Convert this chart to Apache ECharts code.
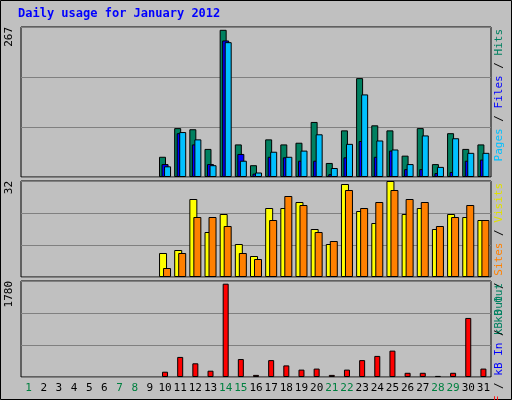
<!DOCTYPE html>
<html><head><meta charset="utf-8">
<script src="https://cdn.jsdelivr.net/npm/echarts@6/dist/echarts.min.js"></script>
<style>html,body{margin:0;padding:0;background:#c0c0c0}#c{width:512px;height:400px}</style>
</head><body><div id="c"></div>
<script>
const days = Array.from({length: 31}, (_, i) => String(i + 1));
const weekend = ['1', '7', '8', '14', '15', '21', '22', '28', '29'];
const pad = a => new Array(9).fill(null).concat(a);
const hits  = pad([36, 87, 85, 50, 262, 58, 21, 67, 58, 61, 98, 25, 83, 176, 92, 83, 38, 87, 23, 78, 50, 58]);
const files = pad([23, 78, 58, 23, 243, 41, 6, 36, 35, 29, 29, 5, 35, 64, 36, 47, 14, 14, 7, 9, 29, 31]);
const pages = pad([19, 80, 67, 21, 240, 29, 8, 45, 36, 47, 76, 16, 59, 147, 65, 49, 23, 74, 18, 69, 43, 43]);
const visits = pad([8, 9, 26, 15, 21, 11, 7, 23, 23, 25, 16, 11, 31, 22, 18, 32, 21, 23, 16, 21, 20, 19]);
const sites  = pad([3, 8, 20, 20, 17, 8, 6, 19, 27, 24, 15, 12, 29, 23, 25, 29, 26, 25, 17, 20, 24, 19]);
const kbytes = pad([98, 372, 254, 117, 1730, 333, 39, 313, 215, 137, 156, 39, 137, 313, 391, 489, 78, 78, 20, 78, 1095, 156]);
const maxes = [267, 32, 1780];

const grids = [
  {left: 21, width: 470, top: 27, height: 150},
  {left: 21, width: 470, top: 181, height: 96},
  {left: 21, width: 470, top: 281, height: 96}
];
const font = 'DejaVu Sans Mono';
const bar = (name, data, idx, color, w, gap) => ({
  name, type: 'bar', data, xAxisIndex: idx, yAxisIndex: idx, barWidth: w, barGap: gap,
  itemStyle: {color, borderColor: '#000', borderWidth: 1}, animation: false
});
const sideText = (y, text, rich) => ({
  type: 'text', x: 499, y, rotation: Math.PI / 2,
  style: {text, align: 'right', verticalAlign: 'middle', rich}
});
const r = c => ({fill: c, font: '11px ' + font});

const chart = echarts.init(document.getElementById('c'));
chart.setOption({
  backgroundColor: '#c0c0c0',
  grid: grids.map(g => ({...g, show: true, backgroundColor: '#c0c0c0', borderColor: '#000', borderWidth: 1})),
  xAxis: grids.map((g, i) => ({
    type: 'category', gridIndex: i, data: days,
    axisLine: {show: false}, axisTick: {show: false},
    axisLabel: i === 2 ? {
      show: true, interval: 0, fontFamily: font, fontSize: 11, margin: 6,
      formatter: v => weekend.includes(v) ? '{g|' + v + '}' : v,
      color: '#000', rich: {g: {color: '#008040', fontFamily: font, fontSize: 11}}
    } : {show: false}
  })),
  yAxis: maxes.map((m, i) => ({
    type: 'value', gridIndex: i, min: 0, max: m, interval: m / 3,
    axisLabel: {
      show: true, rotate: 90, margin: 6, fontFamily: font, fontSize: 11, color: '#000',
      formatter: v => (Math.abs(v - m) < 0.01 ? String(m) : ''),
      align: 'right', verticalAlign: 'bottom'
    },
    axisLine: {show: false}, axisTick: {show: false},
    splitLine: {lineStyle: {color: '#808080', width: 1}}
  })),
  series: [
    bar('Hits', hits, 0, '#008060', 7, '-64%'),
    bar('Files', files, 0, '#0000ff', 7, '-64%'),
    bar('Pages', pages, 0, '#00c0ff', 7, '-64%'),
    bar('Visits', visits, 1, '#ffff00', 8, '-50%'),
    bar('Sites', sites, 1, '#ff8000', 8, '-50%'),
    bar('kB F', kbytes, 2, '#ff0000', 6, '0%')
  ],
  graphic: [
    {type: 'rect', shape: {x: 0.5, y: 0.5, width: 511, height: 399}, style: {fill: 'none', stroke: '#000'}},
    {type: 'text', left: 18, top: 8, style: {text: 'Daily usage for January 2012', fill: '#0000ff', font: 'bold 12px ' + font}},
    sideText(29, '{p|Pages}{k| / }{f|Files}{k| / }{h|Hits}',
      {h: r('#008060'), f: r('#0000ff'), p: r('#00c0ff'), k: r('#000')}),
    sideText(183, '{o|kB Out}{k| / }{s|Sites}{k| / }{v|Visits}',
      {v: r('#e0e000'), s: r('#ff8000'), o: r('#008060'), k: r('#000')}),
    sideText(283, '{f|kB F}{k| / }{i|kB In}{k| / }{o|kB Out}',
      {i: r('#0000ff'), f: r('#ff0000'), o: r('#008060'), k: r('#000')})
  ]
});
</script></body></html>
